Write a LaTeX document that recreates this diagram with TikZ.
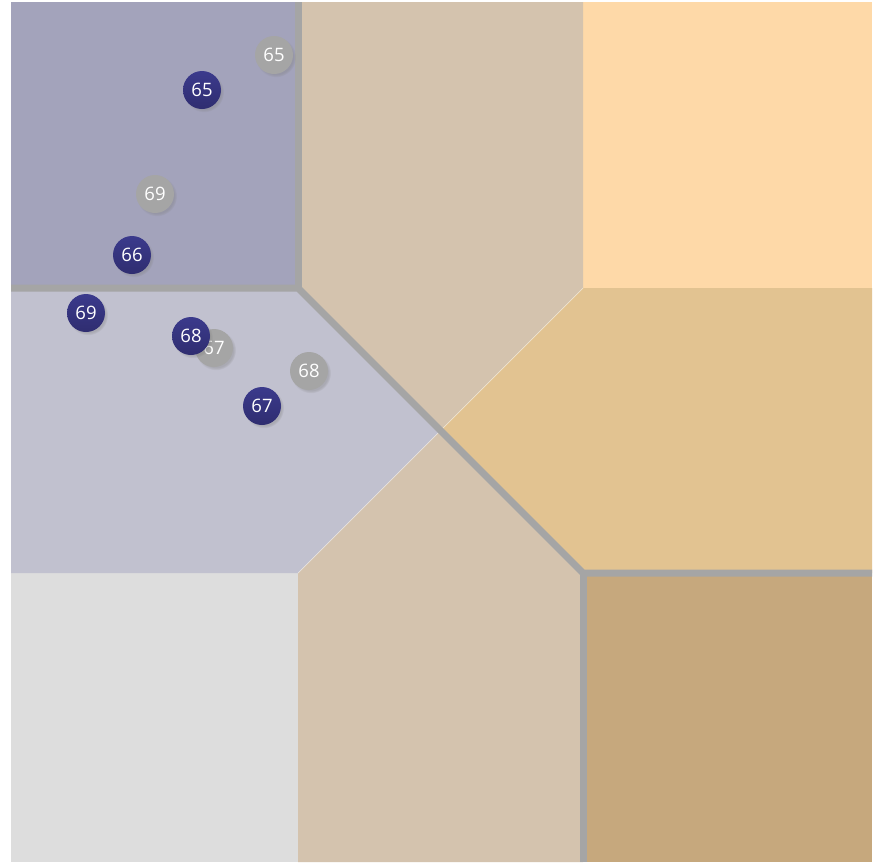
\documentclass[tikz,border=0pt]{standalone}
\usepackage{fontspec}
\setmainfont{Open Sans}
\usetikzlibrary{shadows}
\definecolor{tlc}{HTML}{A3A3BB}
\definecolor{lmc}{HTML}{C1C1CF}
\definecolor{blc}{HTML}{DDDDDD}
\definecolor{tanc}{HTML}{D4C3AE}
\definecolor{trc}{HTML}{FED9A8}
\definecolor{rmc}{HTML}{E2C391}
\definecolor{brc}{HTML}{C6A87D}
\definecolor{wallc}{HTML}{A5A5A5}
\definecolor{navytop}{HTML}{3B3A8C}
\definecolor{navybot}{HTML}{2F2D70}
\definecolor{grayball}{HTML}{A5A5A5}
\begin{document}
\begin{tikzpicture}[x=1pt,y=-1pt,
  wall/.style={draw=wallc,line width=7pt,line join=miter},
  seam/.style={draw=white,opacity=0.45,line width=0.7pt},
  ball/.style={circle,minimum size=38pt,inner sep=0pt,text=white,
    font=\fontsize{18.5}{22}\selectfont,
    circular drop shadow={shadow xshift=1.8pt,shadow yshift=-2pt,shadow scale=1.06,opacity=0.35}},
  navyball/.style={ball,top color=navytop,bottom color=navybot},
  grayball/.style={ball,fill=grayball}]
\useasboundingbox (0,0) rectangle (876,865);
\fill[white] (0,0) rectangle (876,865);
% grid coordinates
\coordinate (a0) at (11,2);   \coordinate (b0) at (298,2);   \coordinate (c0) at (583,2);   \coordinate (d0) at (872,2);
\coordinate (a1) at (11,288); \coordinate (b1) at (298,288); \coordinate (c1) at (583,288); \coordinate (d1) at (872,288);
\coordinate (a2) at (11,573); \coordinate (b2) at (298,573); \coordinate (c2) at (583,573); \coordinate (d2) at (872,573);
\coordinate (a3) at (11,862); \coordinate (b3) at (298,862); \coordinate (c3) at (583,862); \coordinate (d3) at (872,862);
\coordinate (ctr) at (440.5,430.5);
% regions
\fill[tlc] (a0) rectangle (b1);
\fill[trc] (c0) rectangle (d1);
\fill[blc] (a2) rectangle (b3);
\fill[brc] (c2) rectangle (d3);
\fill[tanc] (b0) -- (c0) -- (c1) -- (ctr) -- (b1) -- cycle;
\fill[lmc] (a1) -- (b1) -- (ctr) -- (b2) -- (a2) -- cycle;
\fill[rmc] (c1) -- (d1) -- (d2) -- (c2) -- (ctr) -- cycle;
\fill[tanc] (b2) -- (ctr) -- (c2) -- (c3) -- (b3) -- cycle;
% seams
\draw[seam] (c1) -- (b2);
% walls
\draw[wall] (a1) -- (b1) -- (c2) -- (d2);
\draw[wall] (b0) -- (b1);
\draw[wall] (c2) -- (c3);
% balls
\node[grayball] (g65) at (274,55) {65};
\node[grayball] (g69) at (155,194) {69};
\node[grayball] (g67) at (214,348) {67};
\node[grayball] (g68) at (309,371) {68};
\node[navyball] (n65) at (202,90) {65};
\node[navyball] (n66) at (132,255) {66};
\node[navyball] (n69) at (86,313) {69};
\node[navyball] (n68) at (191,336) {68};
\node[navyball] (n67) at (262,406) {67};
\end{tikzpicture}
\end{document}
